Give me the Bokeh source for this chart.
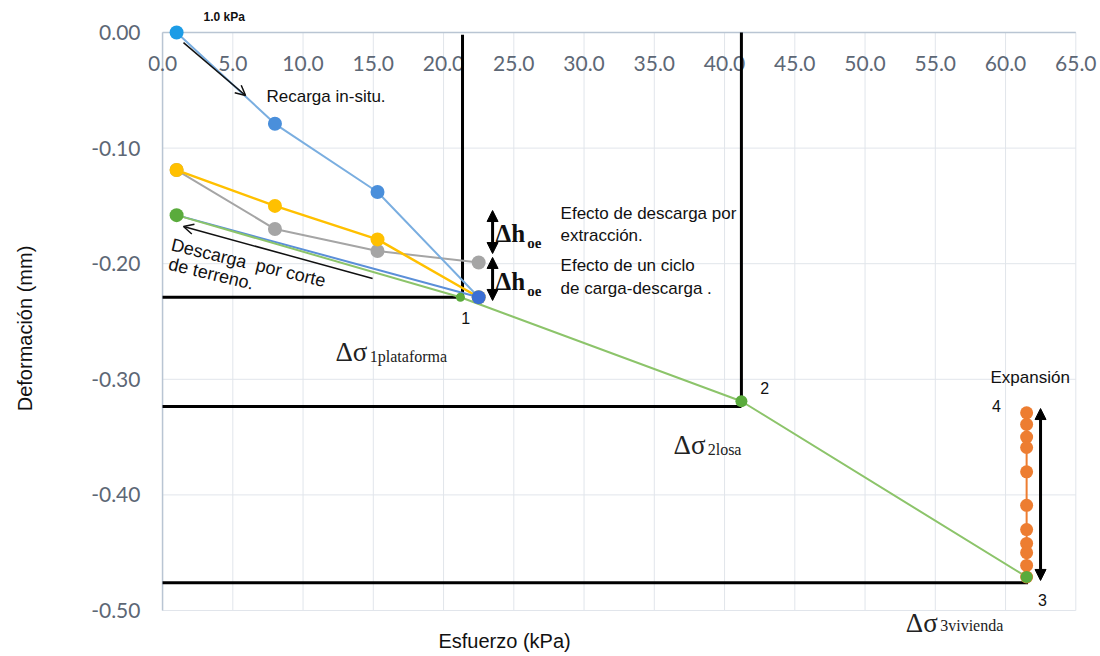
from bokeh.plotting import figure
from bokeh.models import Range1d, FixedTicker, NumeralTickFormatter, Arrow, NormalHead, OpenHead
from bokeh.core.properties import value
from bokeh.embed import file_html
from bokeh.resources import INLINE

# ---------------- data ----------------
x_ticks = [0, 5, 10, 15, 20, 25, 30, 35, 40, 45, 50, 55, 60, 65]
x_tick_labels = ["0.0", "5.0", "10.0", "15.0", "20.0", "25.0", "30.0", "35.0",
                 "40.0", "45.0", "50.0", "55.0", "60.0", "65.0"]
y_ticks = [0.0, -0.1, -0.2, -0.3, -0.4, -0.5]

# Recarga in-situ (blue)
recarga_x = [1.0, 8.0, 15.3, 22.5]
recarga_y = [0.000, -0.079, -0.138, -0.229]
# Descarga por corte de terreno (blue, back to start)
descarga_x = [22.5, 1.0]
descarga_y = [-0.229, -0.158]
# Ciclo carga-descarga (gray)
gris_x = [1.0, 8.0, 15.3, 22.5]
gris_y = [-0.119, -0.170, -0.189, -0.199]
# Descarga por extracción (yellow)
amarillo_x = [1.0, 8.0, 15.3, 22.5]
amarillo_y = [-0.119, -0.150, -0.179, -0.229]
# Carga: plataforma, losa, vivienda (green)
carga_x = [1.0, 21.2, 41.2, 61.5]
carga_y = [-0.158, -0.229, -0.319, -0.471]
# Expansión (orange)
expansion_y = [-0.329, -0.339, -0.350, -0.359, -0.380, -0.409,
               -0.430, -0.442, -0.450, -0.461, -0.471]
expansion_x = [61.5] * len(expansion_y)

# Stress increments and matching deformations (black reference lines)
sigma_marks = [21.35, 41.2, 61.6]
def_marks = [-0.229, -0.3235, -0.476]

# ---------------- figure ----------------
PXX = 14.05    # px per kPa
PXY = 1156.0   # px per mm
W, H = 1100, 656
LEFT = 148
x_start = -1.0
x_end = x_start + (W - LEFT) / PXX
y_end = 32 / PXY
y_start = -(H - 32) / PXY

AX_COL = "#5d6775"
GRID_COL = "#e1e5eb"
AXLINE_COL = "#b9c5d3"
TXT_FONT = value("Liberation Sans")
NUM_FONT = value("Lato")
SERIF = value("Liberation Serif")

p = figure(width=W, height=H, output_backend="svg", toolbar_location=None,
           x_range=Range1d(x_start, x_end), y_range=Range1d(y_start, y_end),
           x_axis_location=None, min_border_left=LEFT, min_border_right=0,
           min_border_top=0, min_border_bottom=0)
p.outline_line_color = None
p.xgrid.visible = False
p.ygrid.visible = False

yax = p.yaxis[0]
yax.ticker = FixedTicker(ticks=y_ticks)
yax.formatter = NumeralTickFormatter(format="0.00")
yax.major_label_text_font = "Lato"
yax.major_label_text_font_size = "21px"
yax.major_label_text_color = AX_COL
yax.major_tick_line_color = None
yax.minor_tick_line_color = None
yax.axis_line_color = None
yax.major_tick_out = 0
yax.major_label_standoff = 8
yax.axis_label = "Deformación (mm)"
yax.axis_label_text_font = "Liberation Sans"
yax.axis_label_text_font_style = "normal"
yax.axis_label_text_font_size = "20px"
yax.axis_label_text_color = "#111111"
yax.axis_label_standoff = 52

# grid (drawn from tick arrays)
x_grid_top = [y_ticks[0]] * len(x_ticks)
x_grid_bot = [y_ticks[-1]] * len(x_ticks)
p.segment(x0=x_ticks, y0=x_grid_top, x1=x_ticks, y1=x_grid_bot,
          line_color=GRID_COL, line_width=1)
p.segment(x0=[x_ticks[0]] * len(y_ticks), y0=y_ticks,
          x1=[x_ticks[-1]] * len(y_ticks), y1=y_ticks,
          line_color=GRID_COL, line_width=1)
# axis lines (top and left)
p.line(x=[x_ticks[0], x_ticks[-1]], y=[y_ticks[0], y_ticks[0]], line_color=AXLINE_COL, line_width=1.5)
p.line(x=[x_ticks[0], x_ticks[0]], y=[y_ticks[0], y_ticks[-1]], line_color=AXLINE_COL, line_width=1.5)

# x tick labels (inside, below the top axis line)
p.text(x=x_ticks, y=[-0.027] * len(x_ticks), text=x_tick_labels,
       text_align="center", text_baseline="middle", text_font=NUM_FONT,
       text_font_size="21px", text_color=AX_COL)

# texts that lie under the black lines
efecto_txt = ["Efecto de descarga por", "extracción.", "Efecto de un ciclo", "de carga-descarga ."]
p.text(x=[28.33] * 4, y=[-0.1566, -0.1756, -0.2016, -0.2215], text=efecto_txt,
       text_align="left", text_baseline="middle", text_font=TXT_FONT,
       text_font_size="17px", text_color="#111111")

# black reference lines
p.segment(x0=[0, 0, 0], y0=def_marks, x1=sigma_marks, y1=def_marks,
          line_color="black", line_width=3)
p.segment(x0=sigma_marks[:2], y0=[-0.002, 0.0], x1=sigma_marks[:2], y1=def_marks[:2],
          line_color="black", line_width=3)

# data lines
p.line(gris_x, gris_y, line_color="#A5A5A5", line_width=2)
p.line(amarillo_x, amarillo_y, line_color="#FFC000", line_width=2.5)
p.line(recarga_x, recarga_y, line_color="#7aaee0", line_width=2)
p.line(descarga_x, descarga_y, line_color="#5b8fd8", line_width=2)
p.line(carga_x, carga_y, line_color="#8cc46a", line_width=2)
p.line(expansion_x, expansion_y, line_color="#ED7D31", line_width=2)

# markers
p.scatter(gris_x, gris_y, size=14, fill_color="#A5A5A5", line_color=None)
p.scatter(amarillo_x, amarillo_y, size=14, fill_color="#FFC000", line_color=None)
p.scatter(recarga_x[1:3], recarga_y[1:3], size=14, fill_color="#4a8fdb", line_color=None)
p.scatter(recarga_x[:1], recarga_y[:1], size=14, fill_color="#1d9ce6", line_color=None)
p.scatter(recarga_x[3:], recarga_y[3:], size=14, fill_color="#3b6fd4", line_color=None)
p.scatter(expansion_x, expansion_y, size=13, fill_color="#ED7D31", line_color=None)
p.scatter(carga_x[:1], carga_y[:1], size=14, fill_color="#5aab3c", line_color=None)
p.scatter(carga_x[1:2], carga_y[1:2], size=9, fill_color="#5aab3c", line_color=None)
p.scatter(carga_x[2:], carga_y[2:], size=12, fill_color="#5aab3c", line_color=None)

# arrows
thin = dict(line_color="#111111", line_width=1.5)
p.add_layout(Arrow(end=OpenHead(size=10, line_width=1.5, line_color="#111111"),
                   x_start=1.49, y_start=-0.0087, x_end=5.91, y_end=-0.0545, **thin))
p.add_layout(Arrow(end=OpenHead(size=10, line_width=1.5, line_color="#111111"),
                   x_start=14.95, y_start=-0.2128, x_end=1.49, y_end=-0.1678, **thin))
for (xa, y0, y1) in [(23.49, -0.154, -0.1912), (23.49, -0.1946, -0.2318), (62.49, -0.3253, -0.474)]:
    p.add_layout(Arrow(start=NormalHead(size=11, fill_color="black", line_color="black"),
                       end=NormalHead(size=11, fill_color="black", line_color="black"),
                       x_start=xa, y_start=y0, x_end=xa, y_end=y1,
                       line_color="black", line_width=3))

# annotation texts
p.text(x=[2.92], y=[0.013], text=["1.0 kPa"], text_align="left", text_baseline="middle",
       text_font=TXT_FONT, text_font_size="12px", text_font_style="bold", text_color="#111111")
p.text(x=[7.4], y=[-0.0554], text=["Recarga in-situ."], text_align="left", text_baseline="middle",
       text_font=TXT_FONT, text_font_size="17px", text_color="#111111")
p.text(x=[0.64, 0.45], y=[-0.1834, -0.2000], text=["Descarga\u00a0\u00a0por corte", "de terreno."],
       angle=-0.234, text_align="left", text_baseline="middle",
       text_font=TXT_FONT, text_font_size="18px", text_color="#111111")
p.text(x=[58.93], y=[-0.2985], text=["Expansión"], text_align="left", text_baseline="middle",
       text_font=TXT_FONT, text_font_size="17px", text_color="#111111")
p.text(x=[21.57, 42.85, 62.63, 59.36], y=[-0.2474, -0.3071, -0.4913, -0.3227],
       text=["1", "2", "3", "4"], text_align="center", text_baseline="middle",
       text_font=TXT_FONT, text_font_size="16px", text_color="#111111")

# Δσ labels
p.text(x=[12.31, 36.37, 52.9], y=[-0.2768, -0.357, -0.5104], text=["Δσ", "Δσ", "Δσ"],
       text_align="left", text_baseline="alphabetic", text_font=SERIF,
       text_font_size="27px", text_color="#222222")
p.text(x=[14.75, 38.8, 55.35], y=[-0.2803, -0.3607, -0.513],
       text=["1plataforma", "2losa", "3vivienda"],
       text_align="left", text_baseline="alphabetic", text_font=SERIF,
       text_font_size="16px", text_color="#222222")
# Δh_oe labels
p.text(x=[23.7, 23.7], y=[-0.1739, -0.2154], text=["Δh", "Δh"],
       text_align="left", text_baseline="alphabetic", text_font=SERIF,
       text_font_size="25px", text_font_style="bold", text_color="#111111")
p.text(x=[25.95, 25.95], y=[-0.1825, -0.2232], text=["oe", "oe"],
       text_align="left", text_baseline="alphabetic", text_font=SERIF,
       text_font_size="15px", text_font_style="bold", text_color="#111111")

# x axis title
p.text(x=[24.34], y=[-0.526], text=["Esfuerzo (kPa)"], text_align="center", text_baseline="middle",
       text_font=TXT_FONT, text_font_size="20px", text_color="#111111")

open("out.html", "w").write(file_html(p, INLINE))
